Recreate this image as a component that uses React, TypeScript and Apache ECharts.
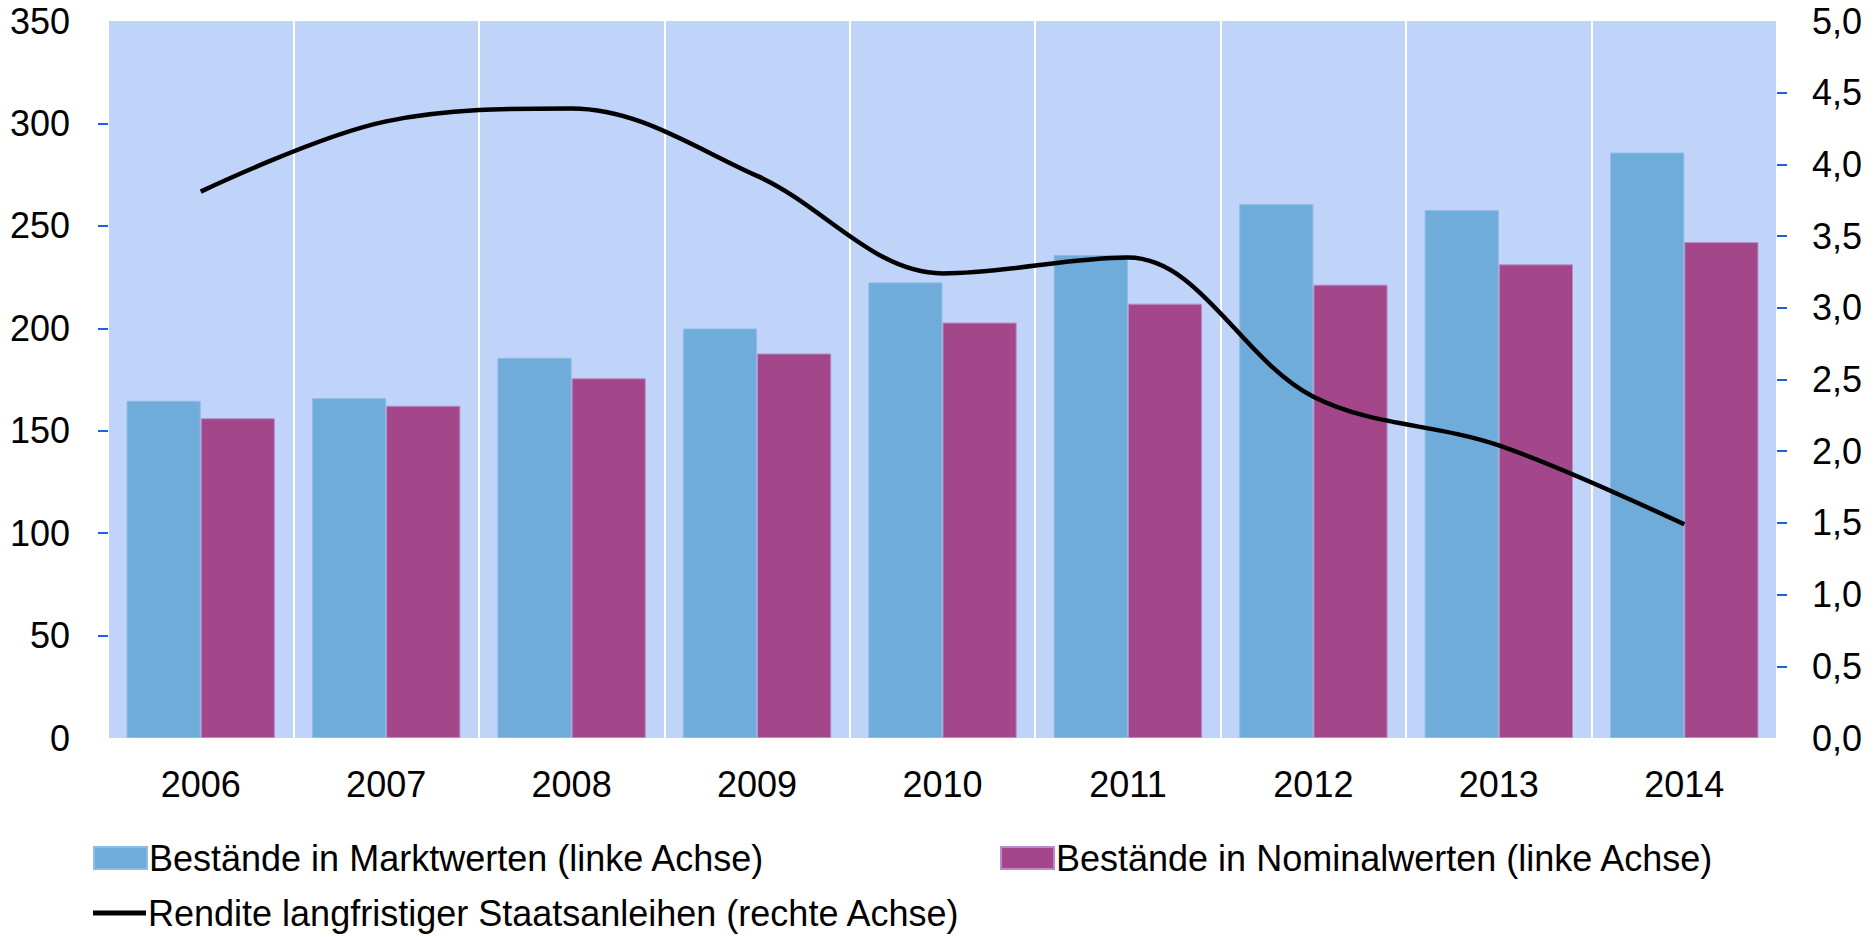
import React, { useEffect, useRef } from "react";
import * as echarts from "echarts";

const categories = ["2006", "2007", "2008", "2009", "2010", "2011", "2012", "2013", "2014"];
const marktwerte = [164.6, 165.9, 185.6, 199.9, 222.4, 235.8, 260.6, 257.7, 285.8];
const nominalwerte = [156.1, 162.2, 175.6, 187.7, 202.8, 212.0, 221.3, 231.2, 242.1];
const rendite = [3.81, 4.3, 4.39, 3.92, 3.24, 3.35, 2.38, 2.04, 1.49];

const leftTickValues = [50, 100, 150, 200, 250, 300];
const rightTickValues = [0.5, 1, 1.5, 2, 2.5, 3, 3.5, 4, 4.5];

const nameMarkt = "Bestände in Marktwerten (linke Achse)";
const nameNominal = "Bestände in Nominalwerten (linke Achse)";
const nameRendite = "Rendite langfristiger Staatsanleihen (rechte Achse)";

const FONT = "'Liberation Sans', Arial, sans-serif";

export default function App() {
  const ref = useRef<HTMLDivElement>(null);

  useEffect(() => {
    document.body.style.margin = "0";
    const chart = echarts.init(ref.current!, null, { renderer: "svg" });
    const legendText = { fontSize: 36, color: "#000", fontFamily: FONT, padding: [0, 0, 0, -3] };
    chart.setOption({
      animation: false,
      backgroundColor: "#ffffff",
      textStyle: { fontFamily: FONT },
      grid: {
        left: 108,
        right: 99,
        top: 21,
        bottom: 199,
        show: true,
        backgroundColor: "#C0D3F8",
        borderWidth: 0,
      },
      legend: [
        {
          left: 93,
          top: 840,
          padding: 0,
          data: [nameMarkt],
          icon: "rect",
          itemWidth: 53,
          itemHeight: 22,
          selectedMode: false,
          textStyle: legendText,
        },
        {
          left: 1000,
          top: 840,
          padding: 0,
          data: [nameNominal],
          icon: "rect",
          itemWidth: 53,
          itemHeight: 22,
          selectedMode: false,
          textStyle: legendText,
        },
        {
          left: 93,
          top: 895,
          padding: 0,
          data: [nameRendite],
          icon: "rect",
          itemWidth: 53,
          itemHeight: 5,
          selectedMode: false,
          textStyle: legendText,
        },
      ],
      xAxis: {
        type: "category",
        data: categories,
        boundaryGap: true,
        axisLine: { show: false },
        axisTick: { show: false },
        axisLabel: { fontSize: 36, color: "#000", margin: 28, fontFamily: FONT },
        splitLine: { show: true, lineStyle: { color: "#ffffff", width: 2 } },
      },
      yAxis: [
        {
          type: "value",
          min: 0,
          max: 350,
          interval: 50,
          axisLine: { show: false },
          axisTick: {
            show: true,
            length: 10,
            customValues: leftTickValues,
            lineStyle: { color: "#1A5FE8", width: 2 },
          },
          axisLabel: { fontSize: 36, color: "#000", margin: 38, fontFamily: FONT },
          splitLine: { show: false },
        },
        {
          type: "value",
          min: 0,
          max: 5,
          interval: 0.5,
          position: "right",
          axisLine: { show: false },
          axisTick: {
            show: true,
            length: 10,
            customValues: rightTickValues,
            lineStyle: { color: "#1A5FE8", width: 2 },
          },
          axisLabel: {
            fontSize: 36,
            color: "#000",
            margin: 35,
            fontFamily: FONT,
            formatter: (v: number) => v.toFixed(1).replace(".", ","),
          },
          splitLine: { show: false },
        },
      ],
      series: [
        {
          name: nameMarkt,
          type: "bar",
          data: marktwerte,
          barGap: "0%",
          barCategoryGap: "20%",
          itemStyle: { color: "#6FACD9", borderColor: "#8DBCE6", borderWidth: 1 },
        },
        {
          name: nameNominal,
          type: "bar",
          data: nominalwerte,
          barGap: "0%",
          barCategoryGap: "20%",
          itemStyle: { color: "#A3478A", borderColor: "#B98BC9", borderWidth: 1 },
        },
        {
          name: nameRendite,
          type: "line",
          yAxisIndex: 1,
          data: rendite,
          smooth: 0.35,
          symbol: "none",
          z: 5,
          itemStyle: { color: "#000" },
          lineStyle: { color: "#000", width: 4.5 },
        },
      ],
    });
    return () => chart.dispose();
  }, []);

  return (
    <div
      ref={ref}
      style={{ position: "fixed", left: 0, top: 0, width: 1876, height: 937 }}
    />
  );
}
